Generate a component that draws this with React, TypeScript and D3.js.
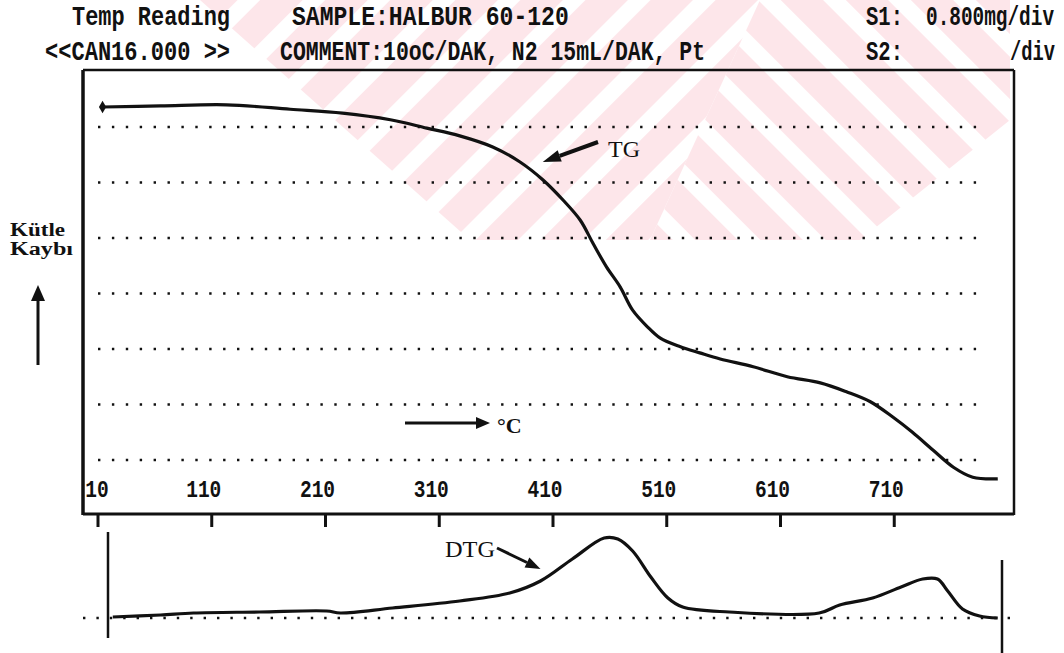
import React from 'react';
import * as d3 from 'd3';

// TG trace: temperature (°C) and height in chart divisions (S1 = 0.8 mg/div)
const tgTemp = [14, 65, 123, 179, 225, 267, 299, 328, 357, 381, 401, 419, 434, 445, 457, 469, 480, 493, 504, 522, 539, 557, 586, 616, 645, 668, 689, 709, 726, 744, 762, 779, 801];
const tgDiv = [6.36, 6.38, 6.4, 6.32, 6.25, 6.13, 5.98, 5.84, 5.64, 5.37, 5.05, 4.68, 4.32, 3.91, 3.48, 3.12, 2.7, 2.4, 2.2, 2.04, 1.93, 1.82, 1.68, 1.5, 1.39, 1.23, 1.05, 0.77, 0.5, 0.18, -0.13, -0.31, -0.34];

// DTG trace (arbitrary units above the baseline)
const dtgTemp = [23, 65, 94, 152, 211, 223, 269, 328, 372, 399, 427, 455, 467, 480, 496, 511, 524, 565, 644, 662, 691, 716, 735, 748, 757, 770, 785, 801];
const dtgVal = [0.1, 0.3, 0.5, 0.6, 0.7, 0.5, 1.0, 1.7, 2.5, 3.7, 5.9, 8.0, 7.9, 6.7, 4.1, 2.0, 1.1, 0.6, 0.5, 1.3, 2.0, 3.1, 3.9, 3.9, 2.7, 0.9, 0.2, 0.0];

const tickTemps = [10, 110, 210, 310, 410, 510, 610, 710];
const gridDivs = [0, 1, 2, 3, 4, 5, 6];

const INK = '#111';
const MONO = '"Liberation Mono", "DejaVu Sans Mono", monospace';
const SERIF = '"Liberation Serif", "DejaVu Serif", serif';

function Arrow({ x1, y1, x2, y2, w = 3, hl = 14, hw = 10 }: any) {
    const a = Math.atan2(y2 - y1, x2 - x1);
    const bx = x2 - hl * Math.cos(a), by = y2 - hl * Math.sin(a);
    const px = -Math.sin(a) * hw / 2, py = Math.cos(a) * hw / 2;
    return (
        <g>
            <line x1={x1} y1={y1} x2={bx} y2={by} stroke={INK} strokeWidth={w} />
            <polygon points={`${x2},${y2} ${bx + px},${by + py} ${bx - px},${by - py}`} fill={INK} />
        </g>
    );
}

// printer style text: monospace squeezed horizontally to a given width
function Mono({ x, y, w, size = 28, anchor = 'start', children }: any) {
    const s = String(children);
    const sx = w / (s.length * 0.6 * size);
    return (
        <text transform={`translate(${x},${y}) scale(${sx.toFixed(3)},1)`} fontFamily={MONO}
            fontWeight="bold" fontSize={size} fill={INK} textAnchor={anchor}>{s}</text>
    );
}

export default function App() {
    const W = 1064, H = 653;
    // frame of the TG panel
    const fL = 83, fR = 1014, fT = 70, fB = 514;

    const x = d3.scaleLinear().domain([10, 810]).range([98, 1008]);
    const yTG = d3.scaleLinear().domain([-1, 7]).range([515.5, 71.5]);
    const yDTG = d3.scaleLinear().domain([0, 8]).range([618, 538]);

    const tgLine = d3.line<number>()
        .x((d, i) => x(tgTemp[i]))
        .y(d => yTG(d))
        .curve(d3.curveCatmullRom.alpha(0.5));
    const dtgLine = d3.line<number>()
        .x((d, i) => x(dtgTemp[i]))
        .y(d => yDTG(d))
        .curve(d3.curveCatmullRom.alpha(0.5));

    const diamond = d3.symbol().type(d3.symbolDiamond).size(45)();

    return (
        <svg width={W} height={H} style={{ position: 'absolute', left: 0, top: 0, background: '#fff' }}>
            <defs>
                <pattern id="stripeL" width="46" height="46" patternUnits="userSpaceOnUse" patternTransform="rotate(45)">
                    <rect width="30" height="46" fill="#fde6ea" />
                </pattern>
                <pattern id="stripeR" width="46" height="46" patternUnits="userSpaceOnUse" patternTransform="rotate(-45)">
                    <rect width="30" height="46" fill="#fde6ea" />
                </pattern>
            </defs>

            {/* faint watermark */}
            <polygon points="200,0 760,0 650,240 470,240" fill="url(#stripeL)" />
            <polygon points="760,0 1010,0 1010,120 860,240 650,240" fill="url(#stripeR)" />

            {/* header */}
            <Mono x={72} y={25} w={158}>Temp Reading</Mono>
            <Mono x={292} y={25} w={277}>SAMPLE:HALBUR 60-120</Mono>
            <Mono x={866} y={25} w={37}>S1:</Mono>
            <Mono x={926} y={25} w={128}>0.800mg/div</Mono>
            <Mono x={45} y={60} w={185}>{'<<CAN16.000 >>'}</Mono>
            <Mono x={280} y={60} w={425}>COMMENT:10oC/DAK, N2 15mL/DAK, Pt</Mono>
            <Mono x={866} y={60} w={37}>S2:</Mono>
            <Mono x={1010} y={60} w={45}>/div</Mono>

            {/* dotted division lines */}
            {gridDivs.map(d => (
                <line key={d} x1={x(10)} x2={987} y1={yTG(d)} y2={yTG(d)}
                    stroke={INK} strokeWidth={2.4} strokeDasharray="2.4 11.5" />
            ))}

            {/* frame */}
            <line x1={fL} x2={fL} y1={fT} y2={fB + 1} stroke={INK} strokeWidth={3.5} />
            <line x1={fL} x2={fR} y1={fT} y2={fT} stroke={INK} strokeWidth={2.5} />
            <line x1={fR} x2={fR} y1={fT} y2={fB + 1} stroke={INK} strokeWidth={2.5} />
            <line x1={fL} x2={fR} y1={fB} y2={fB} stroke={INK} strokeWidth={3} />

            {/* ticks and labels */}
            {tickTemps.map(t => (
                <line key={'t' + t} x1={x(t)} x2={x(t)} y1={fB} y2={fB + 13} stroke={INK} strokeWidth={3} />
            ))}
            {tickTemps.map(t => (
                <Mono key={'l' + t} x={x(t) - (t === 10 ? 1 : 8)} y={497} w={String(t).length * 11.7}
                    size={24} anchor="middle">{t}</Mono>
            ))}

            {/* TG curve */}
            <path d={tgLine(tgDiv) || ''} fill="none" stroke={INK} strokeWidth={3.2} strokeLinejoin="round" />
            <path d={diamond} transform={`translate(${x(tgTemp[0])},${yTG(tgDiv[0])})`} fill={INK} />

            {/* annotations */}
            <g fontFamily={SERIF} fill={INK}>
                <text x={608} y={157} fontSize={24} textLength={32} lengthAdjust="spacingAndGlyphs">TG</text>
                <text x={445} y={557} fontSize={24} textLength={50} lengthAdjust="spacingAndGlyphs">DTG</text>
                <text x={497} y={433} fontSize={22} fontWeight="bold">°C</text>
                <text x={10} y={236} fontSize={18} fontWeight="bold" textLength={55} lengthAdjust="spacingAndGlyphs">Kütle</text>
                <text x={10} y={255} fontSize={18} fontWeight="bold" textLength={63} lengthAdjust="spacingAndGlyphs">Kaybı</text>
            </g>
            <Arrow x1={598} y1={142} x2={x(401)} y2={yTG(5.37)} w={4} hl={18} hw={12} />
            <Arrow x1={497} y1={548} x2={x(399)} y2={yDTG(4.9)} w={3} hl={15} hw={11} />
            <Arrow x1={405} y1={423} x2={490} y2={423} w={3} hl={14} hw={12} />
            <Arrow x1={38} y1={365} x2={38} y2={285} w={3} hl={16} hw={14} />

            {/* DTG panel */}
            <line x1={fL} x2={1013} y1={yDTG(0)} y2={yDTG(0)} stroke={INK} strokeWidth={2.4} strokeDasharray="2.4 11" />
            <line x1={108} x2={108} y1={532} y2={638} stroke={INK} strokeWidth={2.5} />
            <line x1={1002} x2={1002} y1={560} y2={658} stroke={INK} strokeWidth={2.5} />
            <path d={dtgLine(dtgVal) || ''} fill="none" stroke={INK} strokeWidth={3.2} strokeLinejoin="round" />
        </svg>
    );
}
